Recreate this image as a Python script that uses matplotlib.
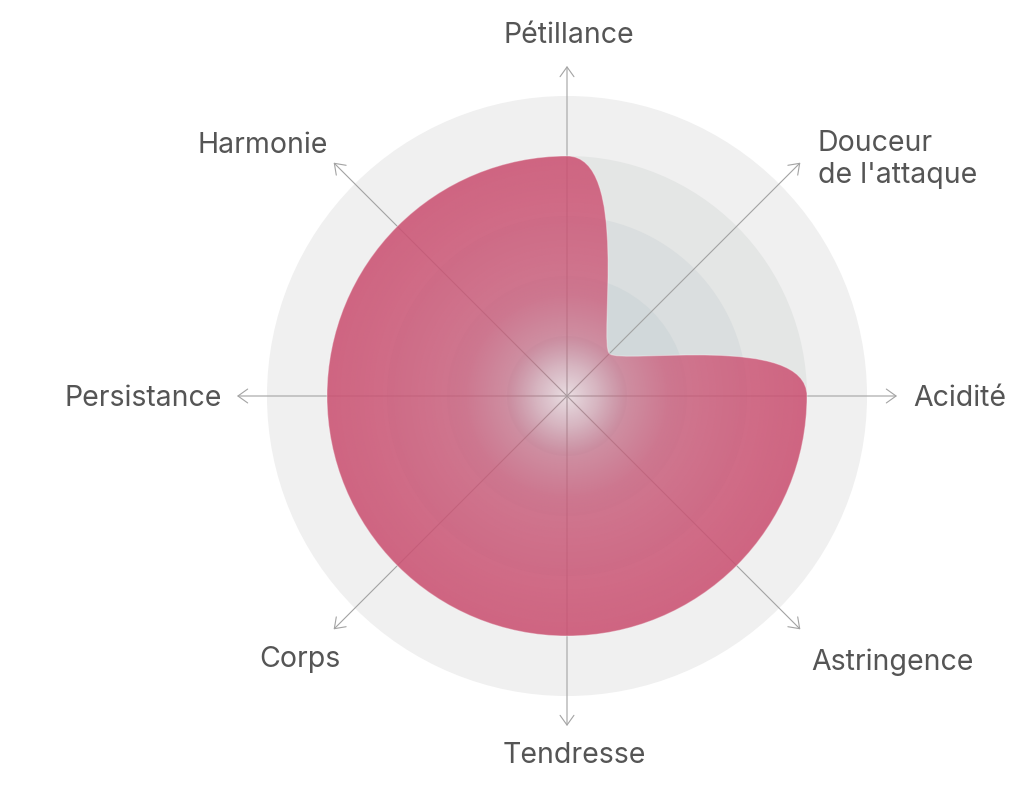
import numpy as np
import matplotlib
matplotlib.use("Agg")
import matplotlib.pyplot as plt
from matplotlib.path import Path
from matplotlib.patches import PathPatch, Circle

# Data
axes_labels = ["Pétillance", "Douceur\nde l'attaque", "Acidité", "Astringence",
               "Tendresse", "Corps", "Persistance", "Harmonie"]
values      = [4, 1, 4, 4, 4, 4, 4, 4]
max_value   = 5

# label layout: (x, y baseline, ha) in data units, one unit per scale step
label_pos = [(0.03, 5.88, "center"), (4.18, 4.08, "left"), (5.77, -0.17, "left"),
             (4.07, -4.57, "left"), (0.12, -6.12, "center"), (-3.77, -4.52, "right"),
             (-5.75, -0.17, "right"), (-3.98, 4.05, "right")]

TEXT  = "#555555"
LINE  = "#a3a3a3"
PINK  = (0.80, 0.32, 0.45)
RINGS = ["#f0f0f0", "#e4e6e5", "#dadedf", "#d1d8da", "#cad2d5"]

plt.rcParams["font.family"] = ["Inter", "DejaVu Sans"]

fig = plt.figure(figsize=(10.24, 7.89), dpi=100)
ax = fig.add_axes([0, 0, 1, 1])
ax.set_xlim(-567 / 60, (1024 - 567) / 60)
ax.set_ylim(-(789 - 396) / 60, 396 / 60)
ax.axis("off")

# background rings
for i, c in enumerate(RINGS):
    ax.add_patch(Circle((0, 0), max_value - i, color=c, lw=0, zorder=1))

# white glow in the centre
g = np.linspace(-1.05, 1.05, 300)
gx, gy = np.meshgrid(g, g)
gr = np.hypot(gx, gy)
glow = np.zeros(gr.shape + (4,))
glow[..., :3] = 1.0
glow[..., 3] = np.clip(1 - gr / 1.0, 0, 1) * 0.7
im = ax.imshow(glow, extent=(-1.05, 1.05, -1.05, 1.05), origin="lower",
               zorder=2, interpolation="bilinear")
im.set_clip_path(Circle((0, 0), 1.0, transform=ax.transData))

# axis lines with open arrow heads
n = len(values)
angles = np.pi / 2 - np.arange(n) * 2 * np.pi / n
for a in angles:
    ax.annotate("", xy=(5.5 * np.cos(a), 5.5 * np.sin(a)), xytext=(0, 0),
                arrowprops=dict(arrowstyle="->,head_length=0.7,head_width=0.5",
                                color=LINE, lw=0.8, shrinkA=0, shrinkB=0,
                                mutation_scale=10),
                zorder=3)

# smooth shape: cubic segments with tangents along the circle at each point
step = 2 * np.pi / n
k = 4 / 3 * np.tan(step / 4)
pts = np.array([[v * np.cos(a), v * np.sin(a)] for v, a in zip(values, angles)])
tan = np.array([[np.sin(a), -np.cos(a)] for a in angles])
verts = [pts[0]]
codes = [Path.MOVETO]
for i in range(n):
    j = (i + 1) % n
    verts += [pts[i] + k * values[i] * tan[i],
              pts[j] - k * values[j] * tan[j],
              pts[j]]
    codes += [Path.CURVE4] * 3
shape = Path(verts, codes)

lim = 4.3
s = np.linspace(-lim, lim, 600)
sx, sy = np.meshgrid(s, s)
sr = np.hypot(sx, sy)
fill = np.zeros(sr.shape + (4,))
fill[..., 0], fill[..., 1], fill[..., 2] = PINK
fill[..., 3] = np.interp(sr, [0, 0.5, 1.0, 1.7, 2.0, 3.0, 4.0],
                         [0.12, 0.3, 0.55, 0.72, 0.75, 0.82, 0.87])
pim = ax.imshow(fill, extent=(-lim, lim, -lim, lim), origin="lower",
                zorder=4, interpolation="bilinear")
patch = PathPatch(shape, facecolor="none", edgecolor=(1, 1, 1, 0.35), lw=0.8, zorder=5)
ax.add_patch(patch)
pim.set_clip_path(patch)

# labels
for lab, (x, y, ha) in zip(axes_labels, label_pos):
    if "\n" in lab:
        for li, part in enumerate(lab.split("\n")):
            ax.text(x, y - li * 32 / 60, part, ha=ha, va="baseline",
                    fontsize=20.5, color=TEXT, zorder=6)
    else:
        ax.text(x, y, lab, ha=ha, va="baseline", fontsize=20.5, color=TEXT, zorder=6)

fig.savefig("out.png", dpi=100)
